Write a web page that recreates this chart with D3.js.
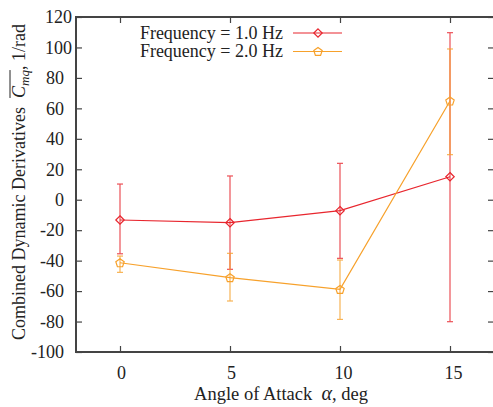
<!DOCTYPE html>
<html>
<head>
<meta charset="utf-8">
<script src="https://cdn.jsdelivr.net/npm/d3@7"></script>
<style>
  body { margin: 0; background: #fff; }
  svg text { font-family: "Liberation Serif", "Times New Roman", "DejaVu Serif", serif; fill: #222; }
</style>
</head>
<body>
<div id="chart"></div>
<script>
// angle of attack, deg
const alphas = [0, 5, 10, 15];

// Frequency = 1.0 Hz
const f1Mean = [-13.3, -15.1, -7.2, 15.1];
const f1Hi = [10.3, 15.6, 23.9, 109.7];
const f1Lo = [-35.5, -45.7, -38.5, -80.1];

// Frequency = 2.0 Hz
const f2Mean = [-41.4, -51.2, -58.9, 64.8];
const f2Hi = [-37, -35.2, -39.6, 99];
const f2Lo = [-47.7, -66.5, -78.6, 29.6];

const xTicks = [0, 5, 10, 15];
const yTicks = [-100, -80, -60, -40, -20, 0, 20, 40, 60, 80, 100, 120];

const W = 493, H = 407;
const m = { top: 17, left: 76, right: -1, bottom: 55 };
const iw = W - m.left - m.right, ih = H - m.top - m.bottom;
const serif = '"Liberation Serif", "Times New Roman", "DejaVu Serif", serif';

const svg = d3.select("#chart").append("svg")
   .attr("width", W).attr("height", H);

const x = d3.scaleLinear().domain([-2, 17]).range([m.left, m.left + iw]);
const y = d3.scaleLinear().domain([-100, 120]).range([m.top + ih, m.top]);

const axisColor = "#444";

// ticks on all four sides, pointing inward
const tickLen = 6;
const fmt = d => String(d);
const axes = svg.append("g");
axes.append("g")
   .attr("transform", `translate(0,${m.top + ih})`)
   .call(d3.axisBottom(x).tickValues(xTicks).tickSize(-tickLen).tickPadding(14).tickFormat(fmt))
   .call(g => g.select(".domain").remove())
   .call(g => g.selectAll(".tick text").attr("dx", d => d >= 10 ? 3 : 1));
axes.append("g")
   .attr("transform", `translate(0,${m.top})`)
   .call(d3.axisTop(x).tickValues(xTicks).tickSize(-tickLen).tickFormat(""))
   .call(g => g.select(".domain").remove());
axes.append("g")
   .attr("transform", `translate(${m.left},0)`)
   .call(d3.axisLeft(y).tickValues(yTicks).tickSize(-tickLen).tickPadding(12).tickFormat(fmt))
   .call(g => g.select(".domain").remove())
   .call(g => g.selectAll(".tick text").attr("dx", d => d >= 100 ? 8 : 0));
axes.append("g")
   .attr("transform", `translate(${m.left + iw},0)`)
   .call(d3.axisRight(y).tickValues(yTicks).tickSize(-tickLen).tickFormat(""))
   .call(g => g.select(".domain").remove());

axes.selectAll("g").attr("font-family", serif).attr("font-size", 18);
axes.selectAll(".tick line").attr("stroke", axisColor).attr("stroke-width", 1.2);
axes.selectAll(".tick text").attr("fill", "#222");

svg.append("rect")
   .attr("x", m.left).attr("y", m.top)
   .attr("width", iw).attr("height", ih)
   .attr("fill", "none").attr("stroke", axisColor).attr("stroke-width", 2);

// series
const series = [
   { name: "Frequency = 1.0 Hz", color: "#e8262e", mean: f1Mean, hi: f1Hi, lo: f1Lo, shape: "diamond" },
   { name: "Frequency = 2.0 Hz", color: "#f7a12b", mean: f2Mean, hi: f2Hi, lo: f2Lo, shape: "pentagon" }
];

function marker(g, shape, color) {
   if (shape === "diamond") {
      g.append("path").attr("d", "M0,-4.2L4.2,0L0,4.2L-4.2,0Z");
   } else {
      const pts = d3.range(5).map(i => {
         const a = -Math.PI / 2 + i * 2 * Math.PI / 5;
         return [4.4 * Math.cos(a), 4.4 * Math.sin(a) + 0.4];
      });
      g.append("path").attr("d", "M" + pts.join("L") + "Z");
   }
   g.selectAll("path").attr("fill", "none").attr("stroke", color).attr("stroke-width", 1.2);
}

const line = d3.line().x(d => x(d.a)).y(d => y(d.v));

series.forEach(s => {
   const pts = alphas.map((a, i) => ({ a: a, v: s.mean[i], hi: s.hi[i], lo: s.lo[i] }));
   const g = svg.append("g");

   const eb = g.selectAll(".eb").data(pts).enter().append("g")
      .attr("stroke", s.color).attr("stroke-width", 1.2).attr("opacity", 0.8);
   eb.append("line")
      .attr("x1", d => x(d.a)).attr("x2", d => x(d.a))
      .attr("y1", d => y(d.hi)).attr("y2", d => y(d.lo));
   eb.append("line")
      .attr("x1", d => x(d.a) - 3).attr("x2", d => x(d.a) + 3)
      .attr("y1", d => y(d.hi)).attr("y2", d => y(d.hi));
   eb.append("line")
      .attr("x1", d => x(d.a) - 3).attr("x2", d => x(d.a) + 3)
      .attr("y1", d => y(d.lo)).attr("y2", d => y(d.lo));

   g.append("path").datum(pts)
      .attr("d", line)
      .attr("fill", "none").attr("stroke", s.color).attr("stroke-width", 1.2);

   g.selectAll(".pt").data(pts).enter().append("g")
      .attr("transform", d => `translate(${x(d.a)},${y(d.v)})`)
      .each(function() { marker(d3.select(this), s.shape, s.color); });
});

// legend
const legend = svg.append("g");
series.forEach((s, i) => {
   const ly = 33 + i * 18.5;
   legend.append("text")
      .attr("x", 283).attr("y", ly).attr("dy", "0.33em")
      .attr("text-anchor", "end")
      .attr("font-family", serif)
      .attr("font-size", 18)
      .text(s.name);
   legend.append("line")
      .attr("x1", 293).attr("x2", 342).attr("y1", ly).attr("y2", ly)
      .attr("stroke", s.color).attr("stroke-width", 1.2);
   const mg = legend.append("g").attr("transform", `translate(318,${ly})`);
   marker(mg, s.shape, s.color);
});

// axis titles
svg.append("text")
   .attr("x", 281).attr("y", 400)
   .attr("text-anchor", "middle")
   .attr("font-family", serif)
   .attr("font-size", 18.5)
   .html('Angle of Attack &#160;<tspan font-style="italic" font-size="20">α</tspan>, deg');

const ylPos = "translate(25,182) rotate(-90)";
const yl = svg.append("text")
   .attr("transform", ylPos)
   .attr("text-anchor", "middle")
   .attr("font-family", serif)
   .attr("font-size", 18);
yl.append("tspan").text("Combined Dynamic Derivatives \u00a0");
yl.append("tspan").attr("font-style", "italic").text("C");
yl.append("tspan").attr("font-style", "italic").attr("font-size", 13).attr("dy", 4).text("mq");
yl.append("tspan").attr("dy", -4).text(", 1/rad");

// overline above C_mq
const tn = yl.node();
const full = tn.textContent;
const ci = full.indexOf("C", full.indexOf("\u00a0"));
const qi = full.indexOf("mq") + 1;
const p0 = tn.getStartPositionOfChar(ci);
const p1 = tn.getEndPositionOfChar(qi);
svg.append("line")
   .attr("transform", ylPos)
   .attr("x1", p0.x).attr("x2", p1.x)
   .attr("y1", -15).attr("y2", -15)
   .attr("stroke", "#222").attr("stroke-width", 1);
</script>
</body>
</html>
